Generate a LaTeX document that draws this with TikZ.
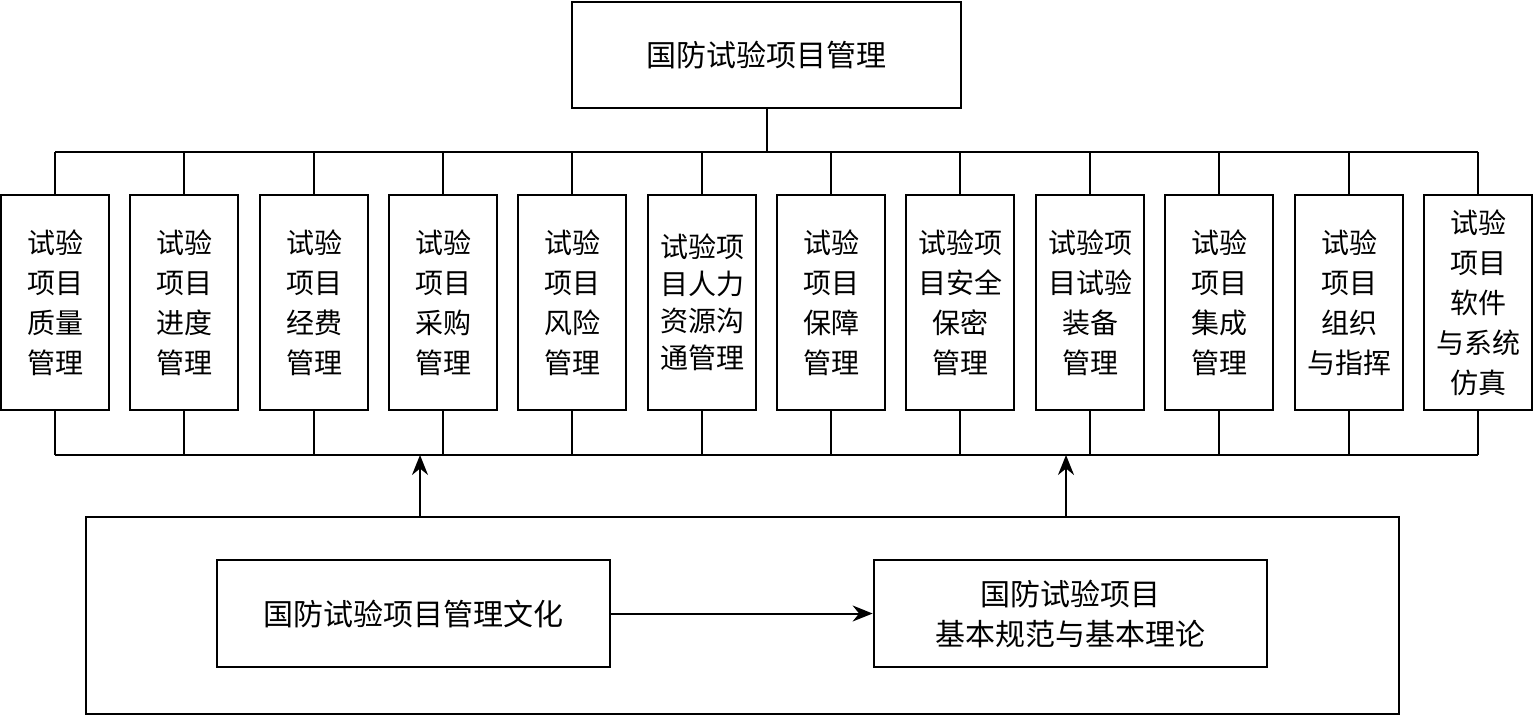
\documentclass[tikz,border=0pt]{standalone}
\usepackage{fontspec}
\newfontfamily\cjk{Noto Sans CJK SC}
\usetikzlibrary{arrows.meta,calc}

\tikzset{
  mainbox/.style={draw,line width=1.4pt,inner sep=0pt,align=center,
    font=\cjk\fontsize{15}{20}\selectfont},
  subbox/.style={draw,line width=1.4pt,inner sep=0pt,align=center,
    minimum width=54pt,minimum height=107.5pt,
    font=\cjk\fontsize{14}{20}\selectfont},
  link/.style={line width=1pt},
  flow/.style={line width=1pt,-{Stealth[length=10pt,width=8pt]}},
}

\begin{document}
\begin{tikzpicture}[x=0.5pt,y=-0.5pt]
  \useasboundingbox (0,0) rectangle (1534,717);
  % top
  \node[mainbox,minimum width=194.5pt,minimum height=53pt] (top) at (766.5,55) {国防试验项目管理};
  % management areas
  \node[subbox] (m1) at (55,302.5) {试验\\项目\\质量\\管理};
  \node[subbox] (m2) at (184,302.5) {试验\\项目\\进度\\管理};
  \node[subbox] (m3) at (314,302.5) {试验\\项目\\经费\\管理};
  \node[subbox] (m4) at (443,302.5) {试验\\项目\\采购\\管理};
  \node[subbox] (m5) at (572,302.5) {试验\\项目\\风险\\管理};
  \node[subbox,font=\cjk\fontsize{14}{18.5}\selectfont] (m6) at (702,302.5) {试验项\\目人力\\资源沟\\通管理};
  \node[subbox] (m7) at (831,302.5) {试验\\项目\\保障\\管理};
  \node[subbox] (m8) at (960,302.5) {试验项\\目安全\\保密\\管理};
  \node[subbox] (m9) at (1090,302.5) {试验项\\目试验\\装备\\管理};
  \node[subbox] (m10) at (1219,302.5) {试验\\项目\\集成\\管理};
  \node[subbox] (m11) at (1349,302.5) {试验\\项目\\组织\\与指挥};
  \node[subbox] (m12) at (1478,302.5) {试验\\项目\\软件\\与系统\\仿真};
  % foundation
  \node[draw,line width=1.4pt,minimum width=656.5pt,minimum height=98.5pt] (base) at (742.5,615.5) {};
  \node[mainbox,minimum width=196.5pt,minimum height=53.5pt] (culture) at (413.5,613.5) {国防试验项目管理文化};
  \node[mainbox,minimum width=196.5pt,minimum height=53.5pt] (theory) at (1070.5,613.5) {国防试验项目\\基本规范与基本理论};
  % bars
  \coordinate (tb) at (766.5,152);
  \coordinate (bb) at (766.5,455);
  \coordinate (aL) at (420,455);
  \coordinate (aR) at (1066,455);
  \draw[link] (top.south) -- (tb);
  \draw[link] (m1.north |- tb) -- (m12.north |- tb);
  \draw[link] (m1.south |- bb) -- (m12.south |- bb);
  \foreach \m in {m1,m2,m3,m4,m5,m6,m7,m8,m9,m10,m11,m12}{
    \draw[link] (\m.north) -- (\m.north |- tb);
    \draw[link] (\m.south) -- (\m.south |- bb);
  }
  \draw[flow] (base.north -| aL) -- (aL);
  \draw[flow] (base.north -| aR) -- (aR);
  \draw[flow] (culture.east) -- (theory.west);
\end{tikzpicture}
\end{document}
